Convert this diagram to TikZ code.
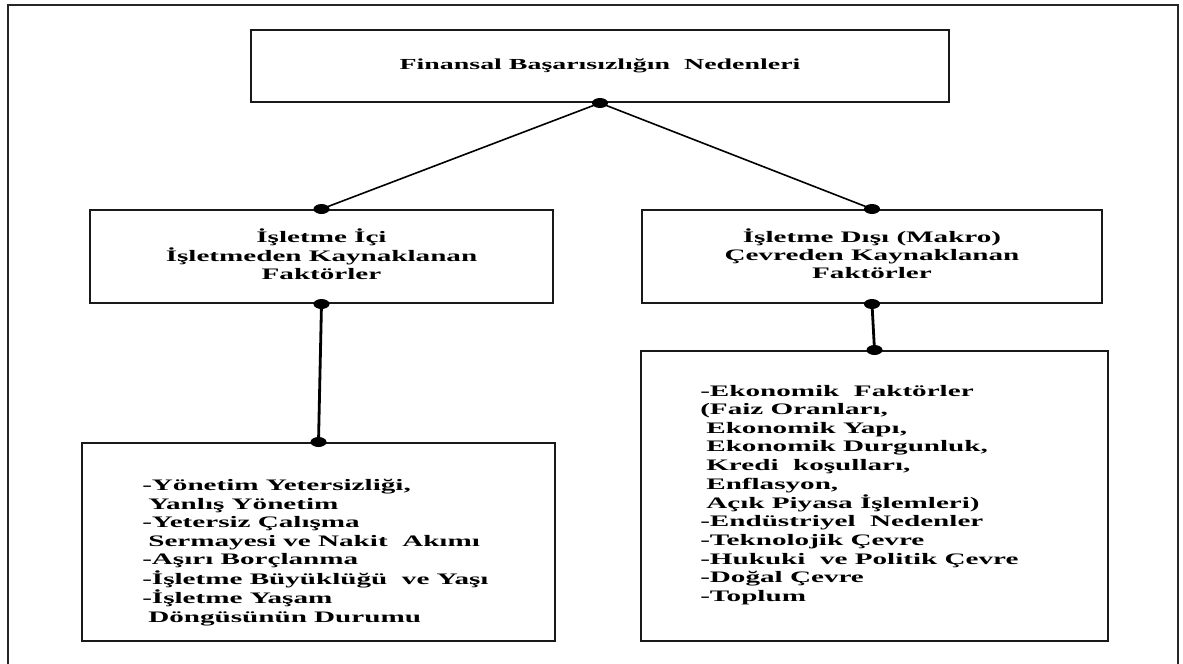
\documentclass[tikz,border=0pt]{standalone}
\usepackage{fontspec}
\setmainfont{Liberation Serif}
\usepackage{graphicx}
\newcommand{\sx}[1]{\scalebox{1.82}[1]{#1}}
\newcommand{\ind}{\hspace*{2.5pt}}
\begin{document}
\begin{tikzpicture}[x=0.75pt,y=-0.75pt]
\tikzset{
 box/.style={draw=black!90, line width=1.5pt, inner sep=0pt, align=center,
   font=\bfseries\fontsize{12}{13.5}\selectfont},
 con/.style={line width=1.2pt},
 vcon/.style={line width=2.1pt},
 body/.style={inner sep=0pt, anchor=west, align=left,
   font=\bfseries\fontsize{12}{13.95}\selectfont},
 frame/.style={line width=1.4pt, draw=black!85}
}
\useasboundingbox (0,0) rectangle (1183,664);
\fill[white] (0,0) rectangle (1183,664);
\draw[frame] (8,670) -- (8,5) -- (1178,5) -- (1178,670);

\node[box, minimum width=523.5pt, minimum height=54pt] (top) at (600,66)
  {\sx{\fontsize{11.5}{13}\selectfont Finansal Başarısızlığın\ \ Nedenleri}};
\node[box, minimum width=347.25pt, minimum height=69.75pt] (lh) at (321.5,256.5)
  {\sx{\begin{tabular}{@{}c@{}}İşletme İçi\\İşletmeden Kaynaklanan\\Faktörler\end{tabular}}};
\node[box, minimum width=345pt, minimum height=69.75pt] (rh) at (872,256.5)
  {\sx{\begin{tabular}{@{}c@{}}İşletme Dışı (Makro)\\Çevreden Kaynaklanan\\Faktörler\end{tabular}}};
\node[box, minimum width=354.75pt, minimum height=148.5pt] (bl) at (318.5,542) {};
\node[box, minimum width=350.25pt, minimum height=217.5pt] (br) at (874.5,496) {};

\node[body] (blt) at (142,552.5)
  {\sx{\begin{tabular}{@{}l@{}}
  -Yönetim Yetersizliği,\\
  \ind Yanlış Yönetim\\
  -Yetersiz Çalışma\\
  \ind Sermayesi ve Nakit\ \ Akımı\\
  -Aşırı Borçlanma\\
  -İşletme Büyüklüğü\ \ ve Yaşı\\
  -İşletme Yaşam\\
  \ind Döngüsünün Durumu
  \end{tabular}}};
\node[body] (brt) at (700,495)
  {\sx{\begin{tabular}{@{}l@{}}
  -Ekonomik\ \ Faktörler\\
  (Faiz Oranları,\\
  \ind Ekonomik Yapı,\\
  \ind Ekonomik Durgunluk,\\
  \ind Kredi\ \ koşulları,\\
  \ind Enflasyon,\\
  \ind Açık Piyasa İşlemleri)\\
  -Endüstriyel\ \ Nedenler\\
  -Teknolojik Çevre\\
  -Hukuki\ \ ve Politik Çevre\\
  -Doğal Çevre\\
  -Toplum
  \end{tabular}}};

\draw[con] (top.south) -- (lh.north);
\draw[con] (top.south) -- (rh.north);
\draw[vcon] (lh.south) -- (bl.north);
\draw[vcon] (rh.south) -- (br.north);
\foreach \p in {top.south, lh.north, rh.north, lh.south, rh.south, bl.north, br.north}
  \fill (\p) ellipse [x radius=6pt, y radius=3.75pt];
\end{tikzpicture}
\end{document}
